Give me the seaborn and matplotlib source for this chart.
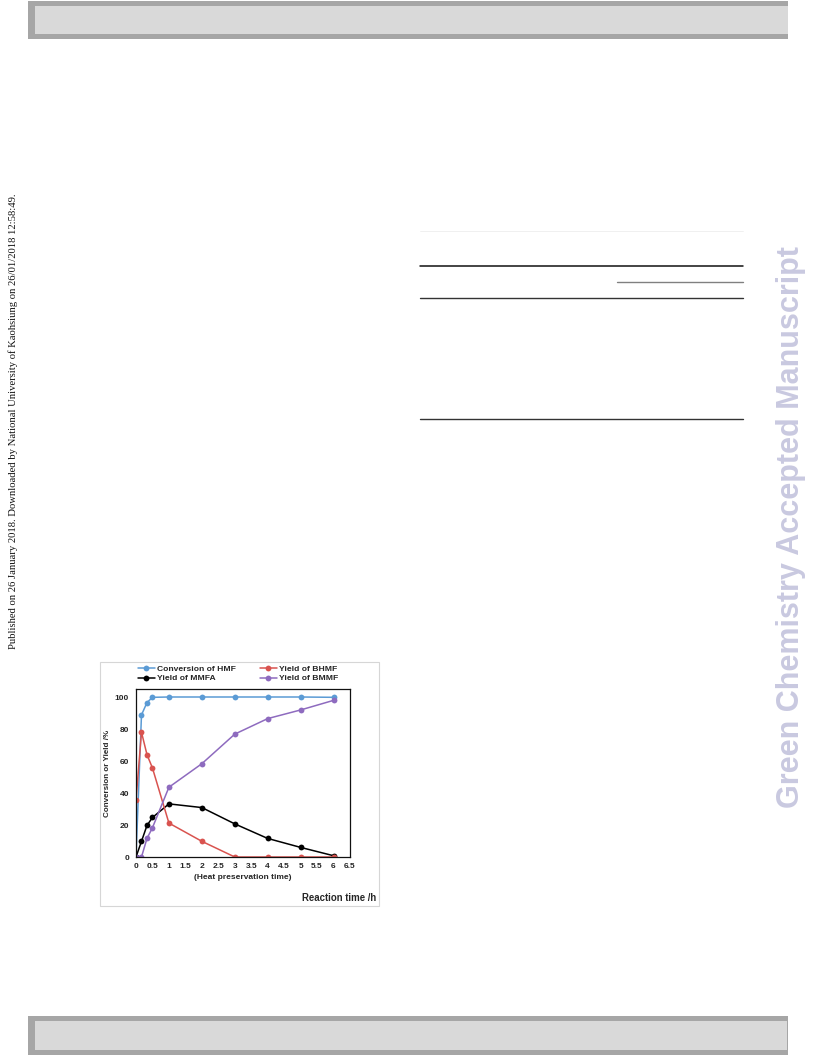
import matplotlib
matplotlib.use("Agg")
import matplotlib.pyplot as plt
import matplotlib.patches as patches
import pandas as pd
import seaborn as sns

# reaction time (h), first points are 10 and 20 min
time_h = [0, 1/6, 1/3, 0.5, 1, 2, 3, 4, 5, 6]
conv_hmf = [0, 88.8, 96.5, 99.8, 100, 100, 100, 100, 100, 99.8]
yield_bhmf = [35.5, 78, 64, 55.6, 21.2, 9.8, 0, 0, 0, 0]
yield_mmfa = [0, 9.8, 19.7, 24.7, 33.2, 30.9, 20.7, 11.6, 6.0, 0.8]
yield_bmmf = [0, 0, 11.6, 18.3, 43.6, 58.3, 76.8, 86.5, 91.9, 97.9]

series_names = ["Conversion of HMF", "Yield of MMFA", "Yield of BHMF", "Yield of BMMF"]
series_colors = ["#5b9bd5", "#000000", "#d9534f", "#8e6bbf"]
x_ticks = [0, 0.5, 1, 1.5, 2, 2.5, 3, 3.5, 4, 4.5, 5, 5.5, 6, 6.5]
x_ticklabels = ["0", "0.5", "1", "1.5", "2", "2.5", "3", "3.5", "4", "4.5", "5", "5.5", "6", "6.5"]
y_ticks = [0, 20, 40, 60, 80, 100]

side_note = ("Published on 26 January 2018. Downloaded by National University of "
             "Kaohsiung on 26/01/2018 12:58:49.")
watermark = "Green Chemistry Accepted Manuscript"


def make_long():
    cols = {"Conversion of HMF": conv_hmf, "Yield of MMFA": yield_mmfa,
            "Yield of BHMF": yield_bhmf, "Yield of BMMF": yield_bmmf}
    frames = []
    for name in series_names:
        frames.append(pd.DataFrame({"time": time_h, "value": cols[name], "series": name}))
    return pd.concat(frames, ignore_index=True)


def draw_page(fig):
    W, H = 816, 1056

    def rect(x, y, w, h, color, lw=0, ec=None):
        fig.patches.append(patches.Rectangle((x / W, 1 - (y + h) / H), w / W, h / H,
                                             transform=fig.transFigure, facecolor=color,
                                             edgecolor=ec if ec else color, linewidth=lw))

    # header and footer bars
    rect(28, 1, 760, 38, "#a6a6a6")
    rect(35, 6, 753, 28, "#d9d9d9")
    rect(28, 1016, 760, 39, "#a6a6a6")
    rect(35, 1021, 752, 29, "#d9d9d9")

    # table rules on the right column
    def hline(x0, x1, y, color, lw):
        fig.add_artist(plt.Line2D([x0 / W, x1 / W], [1 - y / H, 1 - y / H],
                                  transform=fig.transFigure, color=color, linewidth=lw))
    hline(420, 743, 231, "#eeeeee", 0.6)
    hline(420, 743, 266, "#111111", 1.1)
    hline(617, 743, 282, "#808080", 1.0)
    hline(420, 743, 298, "#333333", 1.0)
    hline(420, 743, 419, "#333333", 1.0)

    # light frame around the figure image
    fig.patches.append(patches.Rectangle((100 / W, 1 - 906 / H), 279 / W, 244 / H,
                                         transform=fig.transFigure, facecolor="none",
                                         edgecolor="#d6d6d6", linewidth=0.8))

    fig.text(13 / W, 1 - 421 / H, side_note, rotation=90, ha="center", va="center",
             family="Liberation Serif", fontsize=7.7, color="#111111")
    fig.text(791 / W, 1 - 527 / H, watermark, rotation=90, ha="center", va="center",
             family="Liberation Sans", fontweight="bold", fontsize=22, color="#c9c9e0")


def draw_chart(fig, data):
    W, H = 816, 1056
    ax = fig.add_axes([136 / W, 1 - 857 / H, 214 / W, 168 / H])
    sns.lineplot(data=data, x="time", y="value", hue="series", hue_order=series_names,
                 palette=series_colors, marker="o", markersize=4.2, markeredgewidth=0,
                 linewidth=1.1, ax=ax)
    handles, labels = ax.get_legend_handles_labels()
    ax.get_legend().remove()

    ax.set_xlim(0, 6.5)
    ax.set_ylim(0, 105)
    ax.set_xticks(x_ticks)
    ax.set_xticklabels(x_ticklabels)
    ax.set_yticks(y_ticks)
    ax.tick_params(direction="in", length=2, width=0.6, labelsize=6.0)
    ax.tick_params(axis="x", pad=4)
    ax.tick_params(axis="y", pad=5)
    for lab in ax.get_xticklabels() + ax.get_yticklabels():
        lab.set_fontweight("bold")
    for sp in ax.spines.values():
        sp.set_visible(True)
        sp.set_color("#111111")
        sp.set_linewidth(0.9)
    ax.set_xlabel("(Heat preservation time)", fontsize=6.0, fontweight="bold", labelpad=3)
    ax.set_ylabel("Conversion or Yield /%", fontsize=5.8, fontweight="bold", labelpad=3)
    ax.grid(False)

    fig.legend(handles, labels, ncol=2, loc="upper left",
               bbox_to_anchor=(132 / W, 1 - 659 / H), frameon=False,
               prop={"weight": "bold", "size": 6.1},
               handlelength=2.0, handletextpad=0.2, columnspacing=2.9,
               labelspacing=0.2, borderpad=0.2)
    fig.text(376 / W, 1 - 898 / H, "Reaction time /h", ha="right", va="center",
             fontsize=6.9, fontweight="bold")


if __name__ == "__main__":
    sns.set_theme(style="white")
    plt.rcParams["font.family"] = ["Liberation Sans", "DejaVu Sans"]
    fig = plt.figure(figsize=(8.16, 10.56), dpi=100)
    fig.patch.set_facecolor("white")
    draw_page(fig)
    draw_chart(fig, make_long())
    fig.savefig("out.png", dpi=100)
